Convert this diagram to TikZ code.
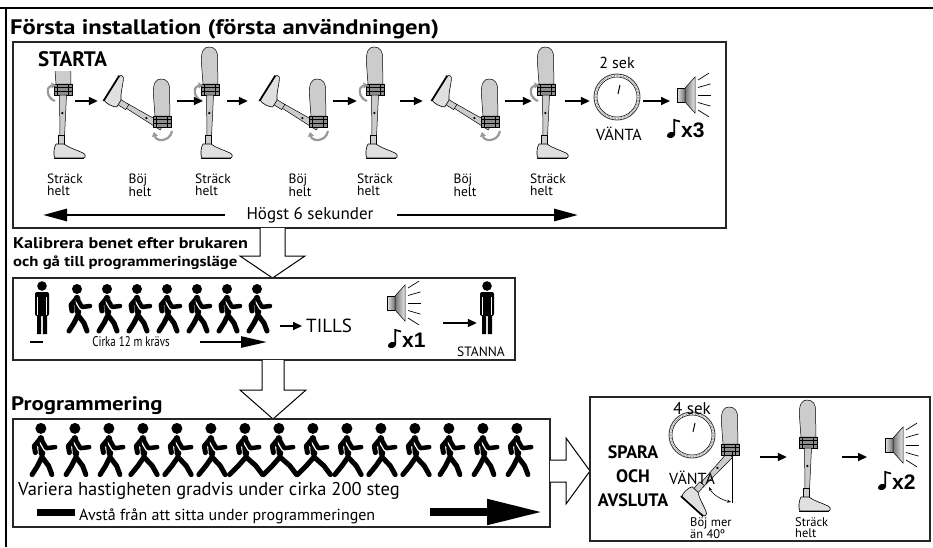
\documentclass[tikz,border=0pt]{standalone}
\usepackage{fontspec}
\usepackage{graphicx}
\setmainfont{PT Sans}
\newfontfamily\wideface{PT Sans}[FakeStretch=1.17]
\newfontfamily\narrowfont{Liberation Sans}
\usetikzlibrary{arrows.meta,positioning}

% prosthesis parts, origin at the top of the knee
\newcommand{\legsocket}{%
  \path[legpart] (-7,0) -- (-8.5,-20) .. controls (-9.5,-33) and (-6,-37) .. (-1,-37)
    .. controls (5,-37) and (8,-33) .. (7.5,-25) -- (8,0) -- cycle;
  \path[fill=black!45, draw=black, line width=0.5pt] (-9,0) rectangle (9,11);
  \draw[black, line width=0.4pt] (-9,3) -- (9,3) (-9,7) -- (9,7) (-6,0) -- (-6,11) (5,0) -- (5,11);
}
% pylon, ankle and shoe, origin just below the knee
\newcommand{\leglower}{%
  \path[legpart] (-3.5,0) -- (3.5,0) -- (1.5,42) -- (-3,42) -- cycle;
  \fill (-0.7,18) circle (1.3);
  \path[legpart] (-4.5,40) rectangle (1.5,50);
  \path[fill=black!12, draw=black, line width=0.6pt] (-7,49) -- (1,49)
    .. controls (6,53) and (14,55) .. (20,58) .. controls (23,59) and (23,63) .. (20,63)
    -- (-8,63) .. controls (-10,60) and (-9,52) .. (-7,49) -- cycle;
  \draw[line width=1.6pt] (-9,63.5) -- (21,63.5);
}

\tikzset{
  box/.style={draw=black!85, line width=1.3pt},
  slot/.style={inner sep=0pt, minimum height=4pt},
  arr/.style={line width=1.7pt, -{Triangle[length=9pt,width=8pt]}},
  midarr/.style={line width=2.6pt, -{Triangle[length=26pt,width=11pt]}},
  longarr/.style={line width=2.8pt, -{Triangle[length=24pt,width=12pt]}},
  fatarr/.style={line width=8pt, -{Triangle[length=56pt,width=24pt]}},
  turnmark/.style={draw=black!40, line width=2.2pt, -{Triangle[length=4.5pt,width=6pt]}},
  hollow/.style={draw=black, fill=white, line width=1pt},
  legpart/.style={fill=black!20, draw=black, line width=0.5pt},
  heading/.style={font=\wideface\bfseries\fontsize{21}{22}\selectfont, inner sep=0pt},
  steplabel/.style={align=left, font=\fontsize{13.5}{12}\selectfont, inner sep=0pt},
  smalllbl/.style={align=left, font=\fontsize{12.5}{11.5}\selectfont, inner sep=0pt},
  times/.style={font=\narrowfont\bfseries\fontsize{21}{22}\selectfont, inner sep=0pt, anchor=base west},
  pics/straightleg/.style={code={
    \legsocket
    \begin{scope}[shift={(0,11)}] \leglower \end{scope}
  }},
  pics/bentleg/.style={code={
    \begin{scope}[shift={(0,11)}, rotate=-122, xscale=-1] \leglower \end{scope}
    \legsocket
  }},
  pics/halfbent/.style={code={
    \begin{scope}[shift={(0,11)}, rotate=-42] \leglower \end{scope}
    \legsocket
  }},
  % pictograms, origin at the hip
  pics/walker/.style={code={
    \fill (-1,-26) circle (5);
    \draw[line width=6.5pt, line cap=round, line join=round]
      (-1,-17) -- (0,-3);
    \draw[line width=5pt, line cap=round, line join=round]
      (0,0) -- ({6+#1/2},8) -- ({9+#1},16)
      (0,0) -- ({-4-#1/2},8) -- ({-9-#1},16)
      (-2,-16) -- (-7,-10) -- (-6,-4);
    \draw[white, line width=7pt, line cap=round, line join=round]
      (1,-13) -- (4,-8) -- (12,-9);
    \draw[line width=4.5pt, line cap=round, line join=round]
      (0,-15) -- (4,-8) -- (12,-9);
  }},
  pics/stander/.style={code={
    \fill (0,-26) circle (4.8);
    \fill[rounded corners=2pt] (-7,-20) rectangle (7,4);
    \fill (-5,2) rectangle (-0.8,22) (0.8,2) rectangle (5,22);
    \draw[white, line width=0.8pt] (-4.5,-15) -- (-4.5,3) (4.5,-15) -- (4.5,3);
  }},
  pics/speaker/.style={code={
    \shadedraw[left color=black!10, right color=black!55, draw=black, line width=0.5pt] (0,-7) rectangle (8,7);
    \shadedraw[left color=black!55, right color=black!8, draw=black, line width=0.5pt]
      (8,-7) -- (18,-18) -- (18,18) -- (8,7) -- cycle;
    \foreach \k in {-2,...,2}
      \draw[line width=0.7pt] (21,\k*7.5) -- ++(\k*16:13);
  }},
  pics/clock/.style={code={
    \draw[black!75, line width=0.9pt] (0,0) circle (23);
    \draw[black!55, line width=1.6pt, dash pattern=on 0.5pt off 1pt] (0,0) circle (21.3);
    \draw[line width=0.5pt] (0,0) circle (20);
    \draw[line width=1pt] (1,-3) -- (3,-12);
  }},
  pics/note/.style={code={
    \fill[rotate=20] (0,0) ellipse (4.2 and 3);
    \draw[line width=1.7pt] (3.3,-0.5) -- (3.3,-15) -- (9,-13.5);
  }},
}

\begin{document}
\begin{tikzpicture}[x=1pt, y=-1pt]
\useasboundingbox (0,0) rectangle (933,547);
\draw[line width=2.6pt] (0,8) -- (933,8);
\draw[line width=2.6pt] (6,8) -- (6,547);

\node[heading, anchor=base west] (title) at (10,34) {Första installation (första användningen)};

% start sequence
\draw[box] (13,42) rectangle (726,228);
\node[font=\bfseries\fontsize{21}{22}\selectfont, inner sep=0pt, anchor=base west] (starta) at (38,66) {STARTA};

\begin{scope}
  \clip (30,71) rectangle (100,170);
  \pic at (63,84) {straightleg};
\end{scope}
\foreach \x in {210,375,546}
  \pic at (\x,84) {straightleg};
\foreach \x in {162,318,490}
  \pic at (\x,116) {bentleg};
\foreach \x in {63,210,375,546}
  \draw[turnmark] (\x-8,101) .. controls (\x-17,98) and (\x-17,86) .. (\x-7,85);
\foreach \x in {162,318,490}
  \draw[turnmark] (\x+10,131) .. controls (\x+8,142) and (\x-6,142) .. (\x-8,132);

\foreach \n/\x/\w in {s1/62/26, b1/137.5/79, s2/215/24, b2/290.5/85, s3/378.5/43, b3/464/82, s4/548.5/33, wait2/616.5/53}
  \node[slot, minimum width=\w] (\n) at (\x,101) {};
\node[slot, minimum width=40, anchor=west] (beep3) at (670,101) {};
\foreach \a/\b in {s1/b1, b1/s2, s2/b2, b2/s3, s3/b3, b3/s4, s4/wait2, wait2/beep3}
  \draw[arr] (\a) -- (\b);

\foreach \x/\t [count=\i] in {65/Sträck, 140/Böj, 213/Sträck, 300/Böj, 375/Sträck, 465/Böj, 548/Sträck}
  \node[steplabel] (lab\i) at (\x,185) {\t\\helt};

\pic at (617,97) {clock};
\node[font=\fontsize{16}{18}\selectfont] (sek2) at (617,63) {2 sek};
\node[font=\fontsize{16}{18}\selectfont] (wait2txt) at (619,134) {VÄNTA};
\pic at (677,95) {speaker};
\pic at (671,135) {note};
\node[times] (x3) at (681,137) {x3};

\node[font=\fontsize{17}{18}\selectfont] (max6) at (310,215) {Högst 6 sekunder};
\coordinate (limleft) at (43,215);
\coordinate (limright) at (578,215);
\draw[longarr, shorten <=18pt] (max6) -- (limleft);
\draw[longarr, shorten <=20pt] (max6) -- (limright);

% calibration walk
\path[hollow] (260,228) -- (260,256) -- (240,256) -- (272.5,278) -- (305,256) -- (285,256) -- (285,228);
\node[font=\wideface\bfseries\fontsize{15.5}{18}\selectfont, anchor=base west, inner sep=0pt] (calib) at (13,248) {Kalibrera benet efter brukaren};
\node[font=\wideface\bfseries\fontsize{14.3}{16}\selectfont, anchor=base west, inner sep=0pt] (progmode) at (13,266) {och gå till programmeringsläge};

\draw[box] (13,278) rectangle (515,360);
\pic at (42,312) {stander};
\foreach \i in {0,...,6}
  \pic at (78+30*\i,315) {walker=0};
\coordinate (walkend) at (280,326);
\node[font=\fontsize{19}{20}\selectfont, anchor=west, inner sep=0pt] (tills) at (306,326) {TILLS};
\draw[arr, shorten >=4pt] (walkend) -- (tills);
\pic at (387,303) {speaker};
\pic at (392,345) {note};
\node[times] (x1) at (402,347) {x1};
\coordinate (stoparr) at (443,323);
\node[slot, minimum width=20] (stopman) at (487,323) {};
\pic at (487,312) {stander};
\draw[arr] (stoparr) -- (stopman);
\node[font=\fontsize{13.5}{14}\selectfont] (stanna) at (481,352) {STANNA};
\draw[line width=2.6pt] (30,342) -- (43,342);
\node[font=\fontsize{14}{15}\selectfont] (cirka) at (131,342) {\scalebox{0.78}[1]{Cirka 12 m krävs}};
\coordinate (cirkaend) at (267,342);
\draw[midarr, shorten <=27pt] (cirka) -- (cirkaend);

% programming
\path[hollow] (262,360) -- (262,390) -- (240,390) -- (273,419) -- (306,390) -- (284,390) -- (284,360);
\node[font=\wideface\bfseries\fontsize{19.5}{22}\selectfont, inner sep=0pt, anchor=base west] (prog) at (11,410) {Programmering};

\draw[box] (13,419) rectangle (550,527);
\foreach \s [count=\i from 0] in {0,0,0,3,3,3,6,6,6,3,3,3,0,0,0}
  \pic[scale=1.1] at (42+34*\i,457) {walker=\s};
\node[font=\fontsize{18.5}{20}\selectfont, anchor=base west, inner sep=0pt] (vary) at (18,495) {Variera hastigheten gradvis under cirka 200 steg};
\node[font=\fontsize{16}{18}\selectfont, anchor=base west, inner sep=0pt] (nosit) at (79,520) {Avstå från att sitta under programmeringen};
\fill (37,509) rectangle (75,516);
\coordinate (fatstart) at (430,512);
\coordinate (progend) at (543,512);
\draw[fatarr] (fatstart) -- (progend);

\path[hollow] (550,460) -- (566,460) -- (566,438) -- (590,471) -- (566,504) -- (566,482) -- (550,482);

% save and exit
\draw[box] (590,397) rectangle (930,541);
\node[font=\bfseries\fontsize{18}{24}\selectfont, align=center] (save) at (633,476) {SPARA\\OCH\\AVSLUTA};
\pic at (692,435) {clock};
\node[font=\fontsize{17}{18}\selectfont] (sek4) at (692,409) {4 sek};
\pic at (730,444) {halfbent};
\draw[line width=0.5pt] (732,452) -- (732,503);
\draw[line width=0.6pt, {Stealth[length=4pt]}-{Stealth[length=4pt]}] (731,502) .. controls (722,500) and (713,495) .. (709,487);
\node[font=\fontsize{16}{18}\selectfont] (wait4txt) at (692,478) {VÄNTA};
\node[smalllbl, anchor=north west] (flexlbl) at (690,517) {Böj mer\\än 40º};

\node[slot, minimum width=20] (flex) at (750,457) {};
\node[slot, minimum width=55] (straight) at (814.5,457) {};
\node[slot, minimum width=20, anchor=west] (beep2) at (867,457) {};
\draw[arr] (flex) -- (straight);
\draw[arr] (straight) -- (beep2);
\pic at (808,437) {straightleg};
\node[smalllbl, anchor=north west] (strlbl) at (795,517) {Sträck\\helt};
\pic at (885,445) {speaker};
\pic at (882,487) {note};
\node[times] (x2) at (892,489) {x2};
\end{tikzpicture}
\end{document}
